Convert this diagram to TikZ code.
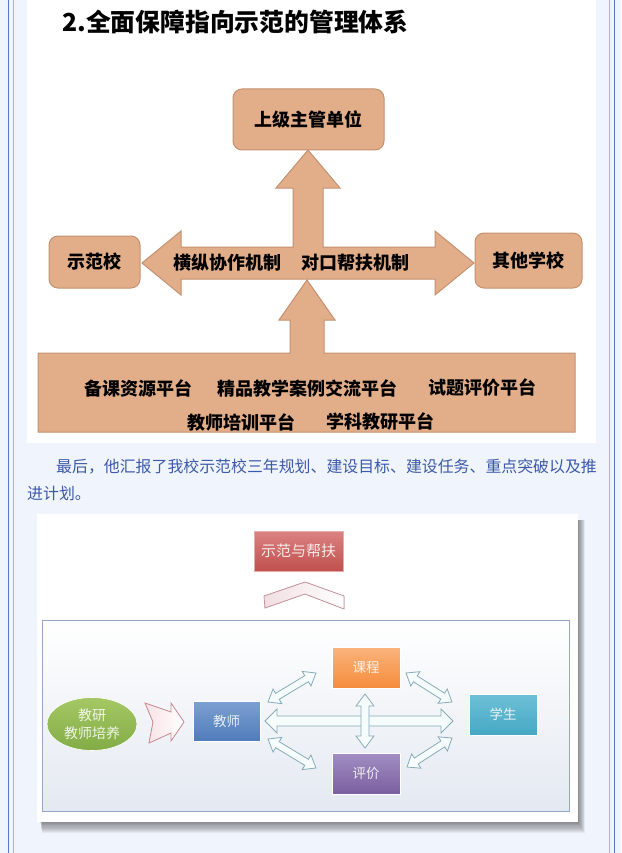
\documentclass[tikz,border=0pt]{standalone}
\usepackage{fontspec}
\newfontfamily\cjk{Noto Sans CJK SC}
\usetikzlibrary{shapes.geometric,calc}
\definecolor{pagebg}{RGB}{240,244,252}
\definecolor{borderdark}{RGB}{95,115,205}
\definecolor{borderlight}{RGB}{165,180,230}
\definecolor{tanfill}{RGB}{226,173,137}
\definecolor{tanedge}{RGB}{196,145,112}
\definecolor{paracol}{RGB}{60,90,170}
\definecolor{framecol}{RGB}{149,169,198}
\definecolor{arrfill}{RGB}{246,251,252}
\definecolor{arredge}{RGB}{135,172,184}
\definecolor{redtop}{RGB}{218,130,130}
\definecolor{redbot}{RGB}{192,80,77}
\definecolor{bluetop}{RGB}{125,160,210}
\definecolor{bluebot}{RGB}{79,124,186}
\definecolor{orgtop}{RGB}{250,180,125}
\definecolor{orgbot}{RGB}{245,140,60}
\definecolor{purtop}{RGB}{162,142,194}
\definecolor{purbot}{RGB}{122,95,160}
\definecolor{teatop}{RGB}{110,192,214}
\definecolor{teabot}{RGB}{69,168,196}
\definecolor{grntop}{RGB}{165,200,100}
\definecolor{grnbot}{RGB}{130,172,70}
\newcommand{\dblarr}[5]{%
  \path[arrstyle] let \p1=(#1), \p2=(#2), \n1={atan2(\y2-\y1,\x2-\x1)}, \n2={veclen(\x2-\x1,\y2-\y1)} in
  [shift={(\p1)}, rotate=\n1]
  (0,0) -- (#5,#4) -- (#5,#3) -- ({\n2-#5},#3) -- ({\n2-#5},#4) -- (\n2,0)
  -- ({\n2-#5},-#4) -- ({\n2-#5},-#3) -- (#5,-#3) -- (#5,-#4) -- cycle;}
\begin{document}
\begin{tikzpicture}[x=1pt,y=-1pt,
  tanbox/.style={draw=tanedge, fill=tanfill, line width=1pt, rounded corners=9pt, inner sep=0pt,
    font=\cjk\bfseries\fontsize{18}{18}\selectfont},
  tantext/.style={inner sep=0pt, font=\cjk\bfseries\fontsize{18}{18}\selectfont},
  para/.style={inner sep=0pt, anchor=west, text=paracol, font=\cjk\fontsize{15.9}{15.9}\selectfont},
  cbox/.style={draw=white, line width=0.6pt, minimum width=68pt, minimum height=41pt, inner sep=0pt,
    text=white, text opacity=0.85, font=\cjk\fontsize{13.5}{13.5}\selectfont},
  arrstyle/.style={draw=arredge, fill=arrfill, line width=0.8pt, line join=miter}]
\useasboundingbox (0,0) rectangle (621,853);
\fill[pagebg] (0,0) rectangle (621,853);
\draw[borderdark, line width=1.2pt] (8.3,0) -- (8.3,853);
\draw[borderlight, line width=0.8pt] (13.3,0) -- (13.3,853);
\draw[borderlight, line width=0.8pt] (609.7,0) -- (609.7,853);
\draw[borderdark, line width=1.2pt] (614.3,0) -- (614.3,853);
% ---------- top picture ----------
\fill[white] (27,0) rectangle (596,443);
\node[anchor=west, inner sep=0pt, font=\cjk\bfseries\fontsize{24.8}{24.8}\selectfont] (title) at (62,22) {2.全面保障指向示范的管理体系};
% cross arrow
\filldraw[fill=tanfill, draw=tanedge, line width=1pt, line join=miter]
  (142,263) -- (181,231) -- (181,247) -- (293,247) -- (293,188) -- (276,188) -- (308,150)
  -- (340,188) -- (323,188) -- (323,247) -- (435,247) -- (435,231) -- (474,263)
  -- (435,295) -- (435,279) -- (181,279) -- (181,295) -- cycle;
% bottom platform with arrow
\filldraw[fill=tanfill, draw=tanedge, line width=1pt, line join=miter]
  (38,353) -- (290,353) -- (290,320) -- (279,320) -- (307,280) -- (335,320) -- (324,320)
  -- (324,353) -- (575,353) -- (575,432) -- (38,432) -- cycle;
\node[tanbox, minimum width=151pt, minimum height=61pt] (sup) at (308.5,119.5) {上级主管单位};
\node[tanbox, minimum width=91pt, minimum height=52pt] (demo) at (94.5,262) {示范校};
\node[tanbox, minimum width=107pt, minimum height=55pt] (other) at (528.5,260.5) {其他学校};
\node[tantext] (m1) at (227.5,263) {横纵协作机制};
\node[tantext] (m2) at (355,263) {对口帮扶机制};
\node[tantext] (b1) at (138,388) {备课资源平台};
\node[tantext] (b2) at (307.5,388) {精品教学案例交流平台};
\node[tantext] (b3) at (482,388) {试题评价平台};
\node[tantext] (b4) at (241,422) {教师培训平台};
\node[tantext] (b5) at (380,422) {学科教研平台};
% ---------- paragraph ----------
\node[para] (p1) at (56,467) {最后，他汇报了我校示范校三年规划、建设目标、建设任务、重点突破以及推};
\node[para] (p2) at (27,493) {进计划。};
% ---------- bottom picture ----------
\foreach \i in {1,...,10}
  \fill[black, opacity=0.05] (40+0.2*\i,520) rectangle (578+0.7*\i,822+1.1*\i);
\fill[white] (37,514) rectangle (578,822);
\draw[draw=framecol, line width=0.9pt, top color=white, bottom color={rgb,255:red,228;green,233;blue,241}] (42,620) rectangle (569,811);
\node[cbox, draw={rgb,255:red,232;green,170;blue,170}, top color=redtop, bottom color=redbot,
  minimum width=89pt, minimum height=40pt, font=\cjk\fontsize{15}{15}\selectfont] (sf) at (298.5,551) {示范与帮扶};
\filldraw[draw={rgb,255:red,200;green,150;blue,158}, line width=0.8pt,
  left color={rgb,255:red,240;green,222;blue,226}, right color=white]
  (264,596) -- (305,582) -- (344,596) -- (344,609) -- (305,594) -- (265,608) -- cycle;
\node[ellipse, draw=white, line width=0.6pt, top color=grntop, bottom color=grnbot,
  minimum width=90pt, minimum height=53pt, inner sep=0pt, align=center,
  text=white, text opacity=0.85, font=\cjk\fontsize{14}{18.5}\selectfont] (ty) at (92,724) {教研\\教师培养};
\filldraw[draw={rgb,255:red,208;green,140;blue,150}, line width=0.8pt,
  left color={rgb,255:red,248;green,226;blue,230}, right color=white]
  (145,703) -- (171,712) -- (171,703) -- (184,722) -- (171,741) -- (171,733) -- (149,743) -- (153,722) -- cycle;
\node[cbox, top color=bluetop, bottom color=bluebot, minimum width=67pt, minimum height=40pt] (js) at (226.5,721) {教师};
\node[cbox, top color=orgtop, bottom color=orgbot] (kc) at (366,667.5) {课程};
\node[cbox, top color=purtop, bottom color=purbot] (pj) at (366,773.5) {评价};
\node[cbox, top color=teatop, bottom color=teabot] (xs) at (503,714.5) {学生};
\coordinate (h1) at (265,721); \coordinate (h2) at (453,721);
\coordinate (v1) at (365,694); \coordinate (v2) at (365,748);
\coordinate (ul1) at (268,702); \coordinate (ul2) at (316,673);
\coordinate (ur1) at (406,673); \coordinate (ur2) at (452,702);
\coordinate (ll1) at (268,739); \coordinate (ll2) at (316,768);
\coordinate (lr1) at (407,767); \coordinate (lr2) at (452,738);
\dblarr{h1}{h2}{5}{12}{12}
\dblarr{v1}{v2}{4}{9}{12}
\dblarr{ul1}{ul2}{3.5}{8.5}{11}
\dblarr{ur1}{ur2}{3.5}{8.5}{11}
\dblarr{ll1}{ll2}{3.5}{8.5}{11}
\dblarr{lr1}{lr2}{3.5}{8.5}{11}
\end{tikzpicture}
\end{document}
